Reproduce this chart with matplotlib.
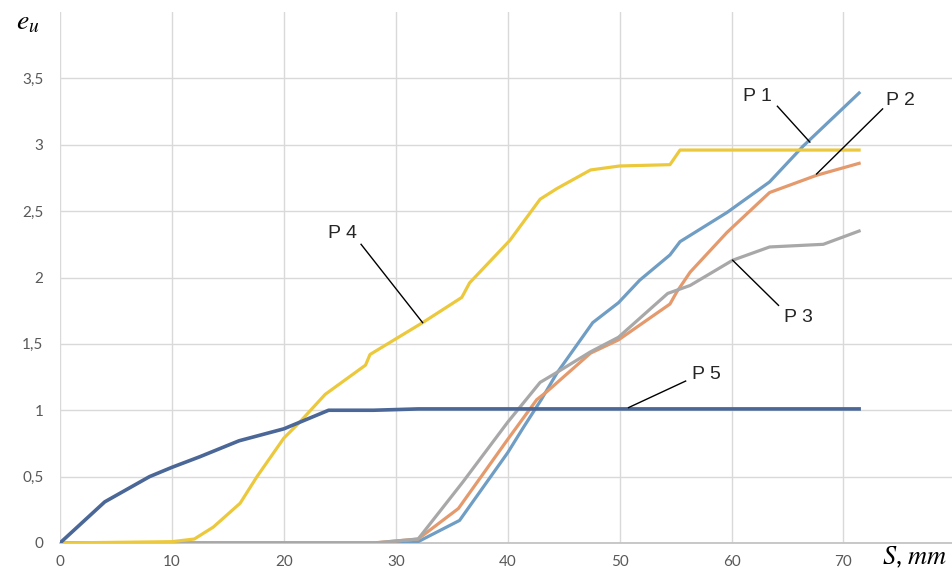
import matplotlib.pyplot as plt

plt.rcParams['font.family'] = ['Lato', 'DejaVu Sans']
plt.rcParams['mathtext.fontset'] = 'stix'

# Strain intensity e_u vs displacement S for five points
s1 = [0, 30, 32, 35.7, 40, 41.4, 43, 44.4, 47.6, 49.9, 51.8, 54.5, 55.4, 59.6, 63.4, 66.4, 71.4]
e1 = [0, 0, 0.01, 0.17, 0.68, 0.87, 1.08, 1.28, 1.66, 1.81, 1.98, 2.17, 2.27, 2.49, 2.72, 2.99, 3.39]

s2 = [0, 28, 32, 35.6, 40, 42.6, 43.5, 47.4, 49.9, 54.5, 55.1, 56.3, 59.6, 63.4, 67.6, 71.4]
e2 = [0, 0, 0.03, 0.26, 0.78, 1.08, 1.14, 1.43, 1.53, 1.80, 1.89, 2.04, 2.34, 2.64, 2.77, 2.86]

s3 = [0, 28, 32, 36, 40, 42.9, 44.1, 47.4, 49.9, 54.3, 56.3, 60.1, 63.4, 68.2, 71.4]
e3 = [0, 0, 0.03, 0.46, 0.91, 1.21, 1.27, 1.44, 1.55, 1.88, 1.94, 2.13, 2.23, 2.25, 2.35]

s4 = [0, 10, 12, 13.7, 16.1, 17.6, 20, 21.3, 23.7, 27.3, 27.7, 32.4, 35.9, 36.6, 40.2,
      42.9, 44.4, 47.4, 50, 54.5, 55.4, 71.4]
e4 = [0, 0.01, 0.03, 0.12, 0.30, 0.50, 0.79, 0.90, 1.12, 1.34, 1.42, 1.66, 1.85, 1.96, 2.28,
      2.59, 2.67, 2.81, 2.84, 2.85, 2.96, 2.96]

s5 = [0, 4, 8, 10, 12.5, 16, 20, 24, 28, 32, 40, 50, 60, 71.4]
e5 = [0, 0.31, 0.50, 0.57, 0.65, 0.77, 0.86, 1.00, 1.00, 1.01, 1.01, 1.01, 1.01, 1.01]

x_ticks = [0, 10, 20, 30, 40, 50, 60, 70]
y_ticks = [0, 0.5, 1, 1.5, 2, 2.5, 3, 3.5]
y_labels = ['0', '0,5', '1', '1,5', '2', '2,5', '3', '3,5']

fig = plt.figure(figsize=(9.52, 5.75), dpi=100)
ax = fig.add_axes([60 / 952, 32 / 575, 892 / 952, 531 / 575])

ax.plot(s1, e1, color='#6f9dc4', lw=2.3, zorder=3)
ax.plot(s2, e2, color='#e49a6c', lw=2.3, zorder=3)
ax.plot(s3, e3, color='#a8a8a8', lw=2.3, zorder=3)
ax.plot(s4, e4, color='#ecc93c', lw=2.3, zorder=3)
ax.plot(s5, e5, color='#4a6797', lw=2.6, zorder=4)

ax.set_xlim(0, 79.7)
ax.set_ylim(0, 4.0)
ax.set_xticks(x_ticks)
ax.set_yticks(y_ticks)
ax.set_yticklabels(y_labels)
ax.tick_params(length=0, labelsize=11, labelcolor='#595959')
ax.tick_params(axis='y', pad=12)
ax.tick_params(axis='x', pad=9)
ax.grid(True, color='#d9d9d9', lw=1)
ax.set_axisbelow(True)
for side in ['top', 'right', 'left']:
    ax.spines[side].set_visible(False)
ax.spines['bottom'].set_color('#bfbfbf')
ax.spines['bottom'].set_linewidth(1.2)

# series labels with leader lines
labels = [
    ('P 1', (62.3, 3.36), (64.1, 3.29), (67.0, 3.02)),
    ('P 2', (75.1, 3.33), (73.5, 3.27), (67.6, 2.78)),
    ('P 3', (66.0, 1.70), (64.2, 1.79), (60.1, 2.13)),
    ('P 4', (25.2, 2.33), (26.9, 2.25), (32.4, 1.66)),
    ('P 5', (57.8, 1.27), (55.9, 1.22), (50.8, 1.02)),
]
for txt, pos, a, b in labels:
    ax.text(pos[0], pos[1], txt, fontsize=14, color='#262626',
            family=['Liberation Sans', 'DejaVu Sans'], ha='center', va='center')
    ax.plot([a[0], b[0]], [a[1], b[1]], color='black', lw=1, zorder=5)

fig.text(28 / 952, 1 - 22 / 575, r'$e_u$', fontsize=20, ha='center', va='center')
fig.text(915 / 952, 1 - 557 / 575, r'$S$, $mm$', fontsize=19, ha='center', va='center')

plt.savefig('out.png', dpi=100)
